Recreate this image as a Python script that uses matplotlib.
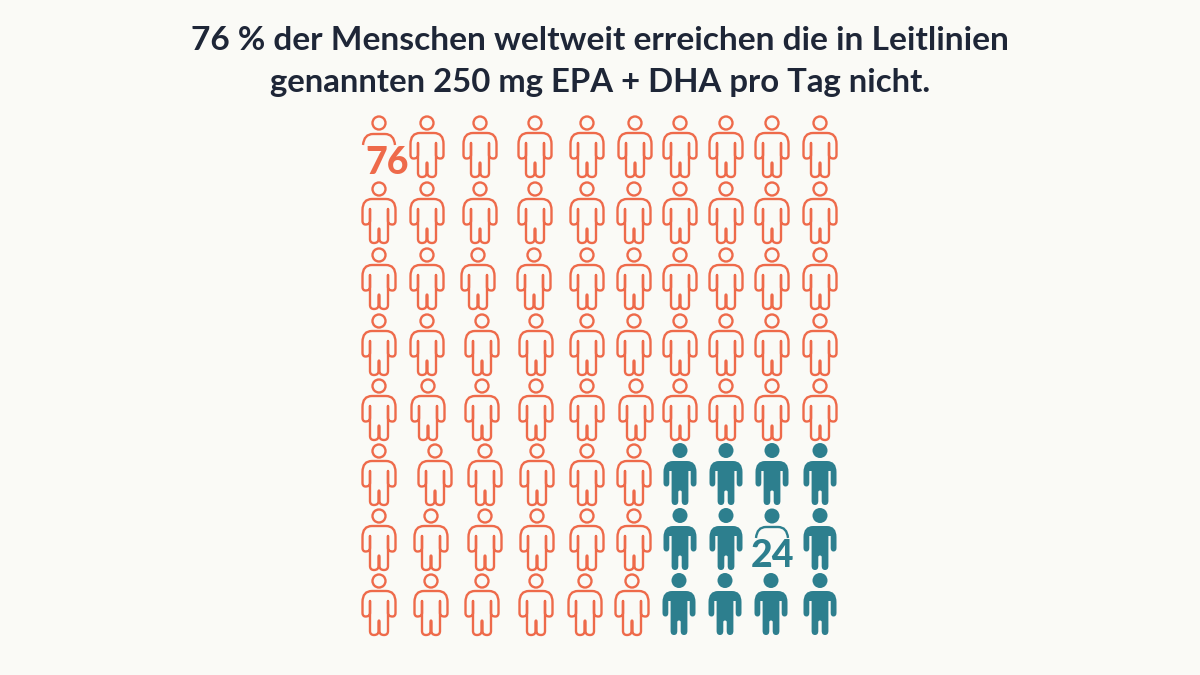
#!/usr/bin/env python3
import matplotlib
matplotlib.use("Agg")
import matplotlib.pyplot as plt
from matplotlib.patches import Circle, PathPatch
from matplotlib.path import Path

TITLE_LINES = [
    "76 % der Menschen weltweit erreichen die in Leitlinien",
    "genannten 250 mg EPA + DHA pro Tag nicht.",
]
MISSED = 76
REACHED = 24
N_COLS = 10
N_ROWS = 8
REACHED_COLS = 4

BG = "#fafaf6"
ORANGE = "#ee6a4a"
TEAL = "#2d7f8e"
DARK = "#1e2637"
LW = 1.7

# hand-placed look of the original: head centres per row, in pixels
ROW_Y = [123, 189, 255, 321, 386, 451, 516, 581]
COL_X = [
    [379, 427, 480, 535, 587, 635, 680, 726, 772, 820],
    [379, 427, 480, 535, 587, 634, 680, 726, 772, 820],
    [379, 427, 478, 534, 587, 634, 680, 726, 772, 820],
    [379, 427, 482, 536, 587, 634, 680, 726, 772, 820],
    [379, 428, 482, 536, 587, 636, 680, 726, 772, 820],
    [379, 435, 485, 537, 587, 634, 680, 726, 772, 820],
    [379, 431, 485, 537, 587, 634, 680, 726, 772, 820],
    [379, 431, 482, 536, 585, 632, 679, 725, 771, 820],
]
LABEL_76 = (0, 0)
LABEL_24 = (6, 8)


def half_body(inner, slit, gap):
    # left half of the figure, head centre at (0, 0), y pointing down
    return [
        (Path.MOVETO, (0, 10)),
        (Path.LINETO, (-7, 10)),
        (Path.CURVE3, (-16.5, 10)),
        (Path.CURVE3, (-16.5, 21)),
        (Path.LINETO, (-16.5, 32)),
        (Path.CURVE3, (-16.5, 35.5)),
        (Path.CURVE3, (-13.5, 35.5)),
        (Path.CURVE3, (-inner - slit, 35.5)),
        (Path.CURVE3, (-inner - slit, 32)),
        (Path.LINETO, (-inner - slit, 20)),
        (Path.LINETO, (-inner, 20)),
        (Path.LINETO, (-inner, 50)),
        (Path.CURVE3, (-inner, 54)),
        (Path.CURVE3, (-5, 54)),
        (Path.CURVE3, (-gap, 54)),
        (Path.CURVE3, (-gap, 50)),
        (Path.LINETO, (-gap, 41)),
        (Path.CURVE3, (-gap, 39.5)),
        (Path.CURVE3, (0, 39.5)),
    ]


def person_path(x, y, inner, slit, gap):
    left = half_body(inner, slit, gap)
    codes = [c for c, _ in left]
    verts = [p for _, p in left]
    # mirror the left half back up to the collar
    right = [(-px, py) for px, py in reversed(verts[:-1])]
    right_codes = list(reversed(codes[1:]))
    return Path([(x + px, y + py) for px, py in verts + right], codes + right_codes)


def draw_person(ax, x, y, color, filled):
    if filled:
        ax.add_patch(Circle((x, y - 0.5), 7.5, fc=color, ec="none"))
        ax.add_patch(PathPatch(person_path(x, y, 8.4, 2.3, 1.7), fc=color, ec="none"))
    else:
        ax.add_patch(Circle((x, y), 6.5, fc="none", ec=color, lw=LW))
        ax.add_patch(PathPatch(person_path(x, y, 9, 0, 0.5), fc="none", ec=color, lw=LW, joinstyle="round"))


def draw_label(ax, x, y, color, text, filled):
    # person cut off at the shoulders, the number takes the place of the body
    if filled:
        ax.add_patch(Circle((x, y), 7.5, fc=color, ec="none"))
    else:
        ax.add_patch(Circle((x, y), 6.5, fc="none", ec=color, lw=LW))
    arc = Path(
        [(x - 16, y + 22), (x - 15, y + 11), (x - 6, y + 11), (x + 6, y + 11), (x + 15, y + 11), (x + 16, y + 22)],
        [Path.MOVETO, Path.CURVE3, Path.CURVE3, Path.LINETO, Path.CURVE3, Path.CURVE3],
    )
    ax.add_patch(PathPatch(arc, fc="none", ec=color, lw=LW))
    ax.text(x + 8 if not filled else x, y + 40, text, color=color, fontsize=27, fontweight="black",
            family="Lato", ha="center", va="center")


def main():
    fig = plt.figure(figsize=(12, 6.75), dpi=100, facecolor=BG)
    ax = fig.add_axes([0, 0, 1, 1])
    ax.set_xlim(0, 1200)
    ax.set_ylim(675, 0)
    ax.axis("off")

    for text, y, size in zip(TITLE_LINES, [50, 92], [24.1, 23.7]):
        ax.text(600, y, text, ha="center", va="baseline", fontsize=size, fontweight="bold",
                family="Lato", color=DARK)

    for row in range(N_ROWS):
        for col in range(N_COLS):
            x = COL_X[row][col]
            y = ROW_Y[row]
            # the teal block fills the bottom right corner
            is_teal = col >= N_COLS - REACHED_COLS and row >= N_ROWS - REACHED // REACHED_COLS // 2
            color = TEAL if is_teal else ORANGE
            if (row, col) == LABEL_76:
                draw_label(ax, x, y, color, str(MISSED), False)
            elif (row, col) == LABEL_24:
                draw_label(ax, x, y, color, str(REACHED), True)
            else:
                draw_person(ax, x, y, color, is_teal)

    fig.savefig("out.png", dpi=100, facecolor=BG)


if __name__ == "__main__":
    main()
